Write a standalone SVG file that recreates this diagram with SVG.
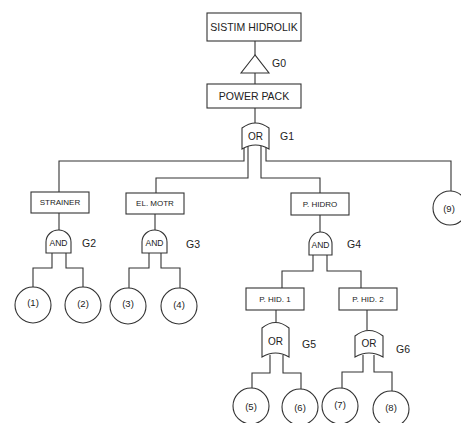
<svg xmlns="http://www.w3.org/2000/svg" width="461" height="423" viewBox="0 0 461 423">
<style>
.box{fill:#fff;stroke:#333;stroke-width:1.1}
.gate{fill:#fff;stroke:#333;stroke-width:1.1}
.ln{fill:none;stroke:#333;stroke-width:1.1}
.t{font-family:"Liberation Sans",Arial,sans-serif;fill:#222;text-anchor:middle;dominant-baseline:central}
.big{font-size:10.5px}
.sm{font-size:8px}
.gt{font-size:10px}
.an{font-size:8.5px}
.cl{font-size:9.5px}
.gl{font-family:"Liberation Sans",Arial,sans-serif;fill:#222;font-size:10.5px;dominant-baseline:central}
.c{fill:#fff;stroke:#333;stroke-width:1.1}
</style>
<rect width="461" height="423" fill="#fff"/>
<g id="connectors">
<line class="ln" x1="255" y1="41" x2="255" y2="55"/>
<line class="ln" x1="255" y1="73" x2="255" y2="84"/>
<line class="ln" x1="255" y1="108" x2="255" y2="123"/>
<polyline class="ln" points="244,147 244,161 59,161 59,192"/>
<polyline class="ln" points="248,146 248,178 156,178 156,193"/>
<polyline class="ln" points="261,146 261,178 320,178 320,193"/>
<polyline class="ln" points="266,147 266,161 451,161 451,191"/>
<line class="ln" x1="59" y1="213" x2="59" y2="230"/>
<polyline class="ln" points="52,253 52,268 33,268 33,287"/>
<polyline class="ln" points="66,253 66,268 83,268 83,287"/>
<line class="ln" x1="155" y1="214" x2="155" y2="230"/>
<polyline class="ln" points="149,253 149,268 129,268 129,288"/>
<polyline class="ln" points="161,253 161,268 180,268 180,288"/>
<line class="ln" x1="320" y1="215" x2="320" y2="232"/>
<polyline class="ln" points="313,255 313,271 282,271 282,288"/>
<polyline class="ln" points="327,255 327,271 361,271 361,288"/>
<line class="ln" x1="276" y1="310" x2="276" y2="322"/>
<polyline class="ln" points="270,355 270,373 252,373 252,388"/>
<polyline class="ln" points="283,355 283,373 301,373 301,389"/>
<line class="ln" x1="367" y1="310" x2="367" y2="330"/>
<polyline class="ln" points="363,355 363,372 342,372 342,388"/>
<polyline class="ln" points="374,355 374,372 392,372 392,391"/>
</g>
<g id="top"><rect class="box" x="207" y="13" width="94" height="28"/><text class="t big" x="254" y="27">SISTIM HIDROLIK</text></g>
<g id="G0"><polygon class="gate" points="255,55 241,73 269,73"/><text class="gl" x="272" y="63">G0</text></g>
<g id="powerpack"><rect class="box" x="207" y="84" width="94" height="24"/><text class="t big" x="254" y="96">POWER PACK</text></g>
<g id="G1"><path class="gate" d="M242,149 L242,128 Q255.5,118 269,128 L269,149 Q255.5,141 242,149 Z"/><text class="t gt" x="255.5" y="136">OR</text><text class="gl" x="280" y="136">G1</text></g>
<g id="strainer"><rect class="box" x="31" y="192" width="58" height="21"/><text class="t sm" x="60" y="202.5">STRAINER</text></g>
<g id="G2"><path class="gate" d="M46,253 L46,242 A12.5,12 0 0 1 71,242 L71,253 Z"/><text class="t an" x="58.5" y="243">AND</text><text class="gl" x="82" y="243">G2</text></g>
<g id="e1"><circle class="c" cx="33" cy="305" r="18"/><text class="t cl" x="33" y="302">(1)</text></g>
<g id="e2"><circle class="c" cx="83" cy="305" r="18"/><text class="t cl" x="83" y="303">(2)</text></g>
<g id="elmotr"><rect class="box" x="126" y="193" width="58" height="21"/><text class="t sm" x="155" y="203.5">EL. MOTR</text></g>
<g id="G3"><path class="gate" d="M142,253 L142,242 A12.5,12 0 0 1 167,242 L167,253 Z"/><text class="t an" x="154.5" y="243">AND</text><text class="gl" x="186" y="244">G3</text></g>
<g id="e3"><circle class="c" cx="128" cy="306" r="18"/><text class="t cl" x="128" y="303">(3)</text></g>
<g id="e4"><circle class="c" cx="179" cy="306" r="18"/><text class="t cl" x="179" y="304">(4)</text></g>
<g id="phidro"><rect class="box" x="291" y="193" width="58" height="22"/><text class="t sm" x="320" y="204">P. HIDRO</text></g>
<g id="G4"><path class="gate" d="M309,255 L309,244 A11.5,12 0 0 1 332,244 L332,255 Z"/><text class="t an" x="320.5" y="245">AND</text><text class="gl" x="347" y="244">G4</text></g>
<g id="e9"><circle class="c" cx="450" cy="208" r="17"/><text class="t cl" x="449" y="208">(9)</text></g>
<g id="phid1"><rect class="box" x="246" y="288" width="58" height="22"/><text class="t sm" x="275" y="299">P. HID. 1</text></g>
<g id="phid2"><rect class="box" x="339" y="288" width="58" height="22"/><text class="t sm" x="368" y="299">P. HID. 2</text></g>
<g id="G5"><path class="gate" d="M262,357 L262,328 Q275.5,317 289,328 L289,357 Q275.5,349 262,357 Z"/><text class="t gt" x="275.5" y="341">OR</text><text class="gl" x="302" y="344">G5</text></g>
<g id="G6"><path class="gate" d="M355,357 L355,336 Q369,325 383,336 L383,357 Q369,349 355,357 Z"/><text class="t gt" x="369" y="343">OR</text><text class="gl" x="396" y="349">G6</text></g>
<g id="e5"><circle class="c" cx="251" cy="406" r="18"/><text class="t cl" x="251" y="406">(5)</text></g>
<g id="e6"><circle class="c" cx="300" cy="407" r="18"/><text class="t cl" x="300" y="407">(6)</text></g>
<g id="e7"><circle class="c" cx="340" cy="406" r="18"/><text class="t cl" x="340" y="404">(7)</text></g>
<g id="e8"><circle class="c" cx="391" cy="409" r="18"/><text class="t cl" x="391" y="407">(8)</text></g>
</svg>
